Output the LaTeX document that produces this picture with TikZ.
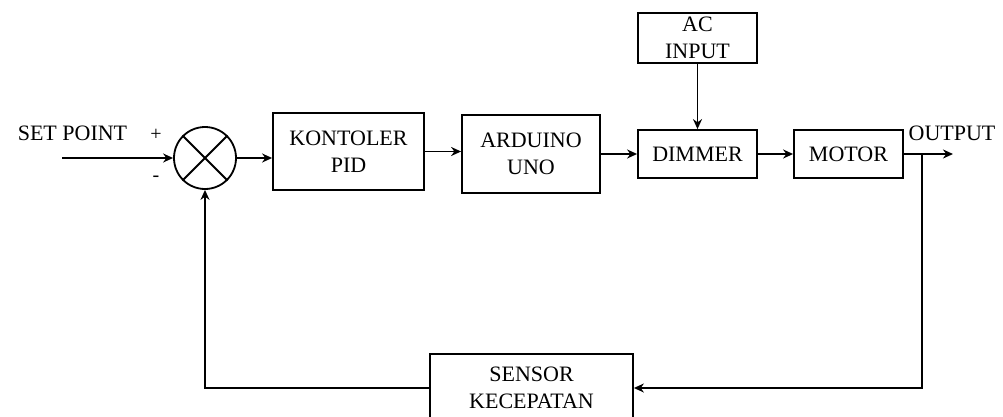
\documentclass[tikz,border=0pt]{standalone}
\usepackage{fontspec}
\setmainfont{Liberation Serif}
\usetikzlibrary{arrows.meta}
\begin{document}
\begin{tikzpicture}[x=1pt,y=-1pt,
  blk/.style={draw,line width=1.8pt,align=center,inner sep=0pt,font=\fontsize{22}{27}\selectfont},
  lbl/.style={inner sep=0pt,font=\fontsize{22}{27}\selectfont},
  con/.style={line width=1.8pt,-{Stealth[length=10pt,width=9pt]}},
  ln/.style={line width=1.8pt}]
\useasboundingbox (0,0) rectangle (1003,417);
\clip (0,0) rectangle (1003,417);
\node[draw,circle,line width=1.8pt,minimum size=62pt,inner sep=0pt] (sum) at (205,158) {};
\draw[ln] (sum.45) -- (sum.225) (sum.135) -- (sum.315);
\node[blk,minimum width=151pt,minimum height=77pt] (pid) at (348.5,151.5) {KONTOLER\\PID};
\node[blk,minimum width=138pt,minimum height=78pt] (ard) at (531,154) {ARDUINO\\UNO};
\node[blk,minimum width=119pt,minimum height=48pt] (dim) at (697.5,154) {DIMMER};
\node[blk,minimum width=119pt,minimum height=50pt] (ac) at (697.5,38) {AC\\INPUT};
\node[blk,minimum width=109pt,minimum height=48pt] (mot) at (848.5,154) {MOTOR};
\node[blk,minimum width=203pt,minimum height=68pt] (sens) at (531.5,388) {SENSOR\\KECEPATAN};
\node[lbl] (sp) at (72.5,133) {SET POINT};
\node[lbl] (out) at (952,133) {OUTPUT};
\node[inner sep=0pt,font=\fontsize{20}{20}\selectfont] (plus) at (156,135) {+};
\node[inner sep=0pt,font=\fontsize{20}{20}\selectfont] (minus) at (156,179) {-};
\coordinate (in) at (62,158);
\coordinate (o) at (953,154);
\coordinate (br) at (922,154);
\coordinate (brd) at (922,388);
\coordinate (fbl) at (205,388);
\draw[con] (in) -- (sum.west);
\draw[con] (sum.east) -- (sum.east -| pid.west);
\draw[con] (pid.east) -- (pid.east -| ard.west);
\draw[con] (ard.east) -- (dim.west);
\draw[con] (ac.south) -- (dim.north);
\draw[con] (dim.east) -- (mot.west);
\draw[con] (mot.east) -- (o);
\draw[con] (br) -- (brd) -- (sens.east);
\draw[con] (sens.west) -- (fbl) -- (sum.south);
\end{tikzpicture}
\end{document}
